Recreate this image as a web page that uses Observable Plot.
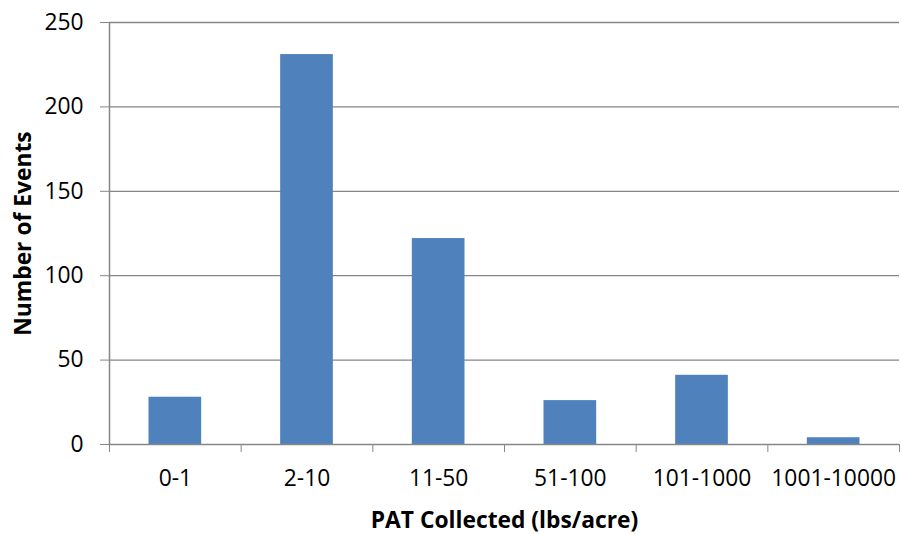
<!DOCTYPE html>
<html>
<head>
<meta charset="utf-8">
<script src="https://cdn.jsdelivr.net/npm/d3@7"></script>
<script src="https://cdn.jsdelivr.net/npm/@observablehq/plot@0.6"></script>
<style>
  html, body { margin: 0; padding: 0; background: #fff; }
</style>
</head>
<body>
<div id="chart"></div>
<script>
const categories = ["0-1", "2-10", "11-50", "51-100", "101-1000", "1001-10000"];
const events = [28, 231, 122, 26, 41, 4];
const yTicks = [0, 50, 100, 150, 200, 250];
const xTitle = "PAT Collected (lbs/acre)";
const yTitle = "Number of Events";

const data = categories.map((c, i) => ({ i, category: c, value: events[i] }));
const grey = "#868686";

const chart = Plot.plot({
  width: 902,
  height: 534,
  marginLeft: 109,
  marginRight: 3,
  marginTop: 22,
  marginBottom: 90,
  style: { fontFamily: "'Open Sans', Lato, sans-serif", fontSize: "22.8px", color: "#000", background: "#fff" },
  x: { domain: [0, categories.length] },
  y: { domain: [0, 250] },
  marks: [
    Plot.gridY(yTicks.filter(d => d > 0), { stroke: grey, strokeOpacity: 1, strokeWidth: 1.3 }),
    Plot.rectY(data, { x1: "i", x2: d => d.i + 1, y: "value", insetLeft: 39.5, insetRight: 39.5, fill: "#4F81BD" }),
    Plot.axisY({ ticks: yTicks, tickSize: 9, tickPadding: 17, stroke: grey, fill: "#000", label: null, tickFormat: d => String(d) }),
    Plot.axisX({ ticks: d3.range(0, categories.length + 1), tickSize: 8, stroke: grey, tickFormat: () => "", label: null }),
    Plot.axisX({ ticks: categories.map((c, i) => i + 0.5), tickSize: 0, tickPadding: 25, fill: "#000", tickFormat: d => categories[Math.floor(d)], label: null }),
    Plot.ruleY([0], { stroke: grey, strokeWidth: 1.5 }),
    Plot.ruleX([0], { stroke: grey, strokeWidth: 1.5 }),
    Plot.text([yTitle], { frameAnchor: "left", textAnchor: "middle", lineAnchor: "middle", dx: -86, rotate: -90, fontWeight: "bold", fontSize: 22.8, fill: "#000" }),
    Plot.text([xTitle], { frameAnchor: "bottom", textAnchor: "middle", lineAnchor: "middle", dy: 76, fontWeight: "bold", fontSize: 22.8, fill: "#000" })
  ]
});
document.getElementById("chart").appendChild(chart);
</script>
</body>
</html>
